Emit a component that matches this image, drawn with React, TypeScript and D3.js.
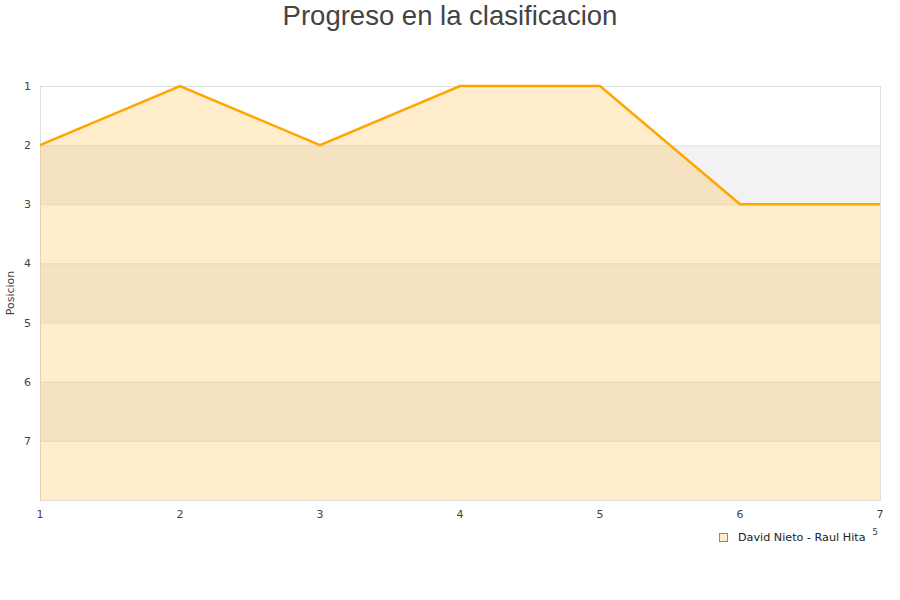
import { useEffect, useRef } from "react";
import * as d3 from "d3";

const jornadas = [1, 2, 3, 4, 5, 6, 7];
const posiciones = [2, 1, 2, 1, 1, 3, 3];
const yTicks = [1, 2, 3, 4, 5, 6, 7];
const bandas = [2, 4, 6];
const serie = "David Nieto - Raul Hita";

export default function App() {
  const ref = useRef<SVGSVGElement | null>(null);

  useEffect(() => {
    const svg = d3.select(ref.current);
    svg.selectAll("*").remove();

    const left = 40, right = 880, top = 86, bottom = 500;
    const x = d3.scaleLinear().domain([1, 7]).range([left, right]);
    const y = d3.scaleLinear().domain([1, 8]).range([top, bottom]);
    const axisFont = "DejaVu Sans, Verdana, sans-serif";

    // title
    svg.append("text")
      .attr("x", 450).attr("y", 25)
      .attr("text-anchor", "middle")
      .style("font-family", "Liberation Sans, Arial, sans-serif")
      .style("font-size", "27.5px")
      .style("fill", "#444")
      .text("Progreso en la clasificacion");

    // alternating bands
    svg.selectAll("rect.band")
      .data(bandas)
      .enter()
      .append("rect")
      .attr("x", left).attr("width", right - left)
      .attr("y", d => y(d))
      .attr("height", d => y(d + 1) - y(d))
      .attr("fill", "#f2f2f2");

    // grid
    svg.selectAll("line.grid")
      .data(yTicks.slice(1))
      .enter()
      .append("line")
      .attr("x1", left).attr("x2", right)
      .attr("y1", d => y(d) + 0.5).attr("y2", d => y(d) + 0.5)
      .attr("stroke", "#e4e4e4");

    // border
    svg.append("rect")
      .attr("x", left + 0.5).attr("y", top + 0.5)
      .attr("width", right - left).attr("height", bottom - top)
      .attr("fill", "none").attr("stroke", "#dddddd");

    const pts = jornadas.map((j, i) => [j, posiciones[i]] as [number, number]);

    const area = d3.area<[number, number]>()
      .x(d => x(d[0]))
      .y0(y(8))
      .y1(d => y(d[1]));
    svg.append("path")
      .attr("d", area(pts)!)
      .attr("fill", "#ffa500")
      .attr("fill-opacity", 0.2);

    const line = d3.line<[number, number]>()
      .x(d => x(d[0]))
      .y(d => y(d[1]));
    svg.append("path")
      .attr("d", line(pts)!)
      .attr("fill", "none")
      .attr("stroke", "#ffa500")
      .attr("stroke-width", 2.5);

    // y ticks
    svg.selectAll("text.yt")
      .data(yTicks)
      .enter()
      .append("text")
      .attr("x", 31).attr("y", d => y(d) + 4)
      .attr("text-anchor", "end")
      .style("font-family", axisFont)
      .style("font-size", "11px")
      .style("fill", "#444")
      .text(d => d);

    svg.append("text")
      .attr("transform", `translate(14,${(top + bottom) / 2}) rotate(-90)`)
      .attr("text-anchor", "middle")
      .style("font-family", axisFont)
      .style("font-size", "11px")
      .style("fill", "#444")
      .text("Posicion");

    // x ticks
    svg.selectAll("text.xt")
      .data(jornadas)
      .enter()
      .append("text")
      .attr("x", d => x(d)).attr("y", 518)
      .attr("text-anchor", "middle")
      .style("font-family", axisFont)
      .style("font-size", "11px")
      .style("fill", "#444")
      .text(d => d);

    svg.append("text")
      .attr("x", 875).attr("y", 535)
      .attr("text-anchor", "middle")
      .style("font-family", axisFont)
      .style("font-size", "9px")
      .style("fill", "#444")
      .text("5");

    // legend
    svg.append("rect")
      .attr("x", 719.5).attr("y", 533.5)
      .attr("width", 8).attr("height", 8)
      .attr("fill", "#ffedcc")
      .attr("stroke", "#888");
    svg.append("text")
      .attr("x", 738).attr("y", 541)
      .style("font-family", axisFont)
      .style("font-size", "11.2px")
      .style("fill", "#222")
      .text(serie);
  }, []);

  return (
    <svg
      ref={ref}
      width={900}
      height={600}
      style={{ position: "absolute", left: 0, top: 0, background: "#fff" }}
    />
  );
}
